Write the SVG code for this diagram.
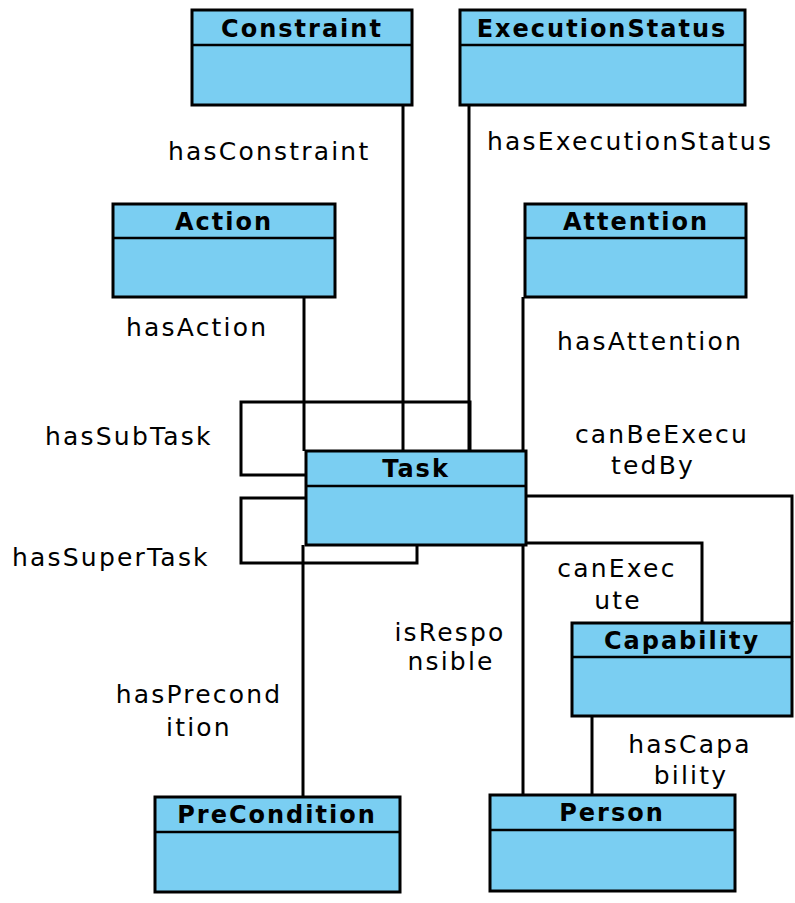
<svg xmlns="http://www.w3.org/2000/svg" width="795" height="903" viewBox="0 0 795 903">
<style>
.box{fill:#7acef2;stroke:#000;stroke-width:3}
.div{stroke:#000;stroke-width:2.5}
.title{font-family:"DejaVu Sans",sans-serif;font-weight:bold;font-size:24px;letter-spacing:2px;text-anchor:middle;fill:#000}
.lbl{font-family:"DejaVu Sans",sans-serif;font-size:25px;letter-spacing:2.2px;fill:#000}
.mid{text-anchor:middle}
.conn path{fill:none;stroke:#000;stroke-width:3}
</style>
<rect width="795" height="903" fill="#fff"/>
<g class="conn" id="connectors">
<path d="M403 105V451"/>
<path d="M469 105V451"/>
<path d="M304 297V451"/>
<path d="M523 297V451"/>
<path d="M470 451V402H241V475H306"/>
<path d="M306 498H241V563H417V545"/>
<path d="M303 545V797"/>
<path d="M523 545V795"/>
<path d="M526 496H792V622"/>
<path d="M526 543H702V622"/>
<path d="M592 716V795"/>
</g>
<g id="Constraint"><rect class="box" x="192" y="10" width="220" height="95"/><line class="div" x1="192" y1="45" x2="412" y2="45"/><text class="title" x="302" y="37">Constraint</text></g>
<g id="ExecutionStatus"><rect class="box" x="460" y="10" width="285" height="95"/><line class="div" x1="460" y1="45" x2="745" y2="45"/><text class="title" x="602" y="37">ExecutionStatus</text></g>
<g id="Action"><rect class="box" x="113" y="204" width="222" height="93"/><line class="div" x1="113" y1="238" x2="335" y2="238"/><text class="title" x="224" y="230">Action</text></g>
<g id="Attention"><rect class="box" x="525" y="204" width="221" height="93"/><line class="div" x1="525" y1="238" x2="746" y2="238"/><text class="title" x="636" y="230">Attention</text></g>
<g id="Task"><rect class="box" x="306" y="451" width="220" height="94"/><line class="div" x1="306" y1="486" x2="526" y2="486"/><text class="title" x="416" y="477">Task</text></g>
<g id="Capability"><rect class="box" x="572" y="623" width="220" height="93"/><line class="div" x1="572" y1="657" x2="792" y2="657"/><text class="title" x="682" y="649">Capability</text></g>
<g id="PreCondition"><rect class="box" x="155" y="797" width="245" height="95"/><line class="div" x1="155" y1="832" x2="400" y2="832"/><text class="title" x="277" y="823">PreCondition</text></g>
<g id="Person"><rect class="box" x="490" y="795" width="245" height="96"/><line class="div" x1="490" y1="830" x2="735" y2="830"/><text class="title" x="612" y="821">Person</text></g>
<g id="labels">
<text class="lbl" x="168" y="160">hasConstraint</text>
<text class="lbl" x="487" y="150">hasExecutionStatus</text>
<text class="lbl" x="126" y="336">hasAction</text>
<text class="lbl" x="557" y="350">hasAttention</text>
<text class="lbl" x="45" y="445">hasSubTask</text>
<text class="lbl mid" x="662" y="443">canBeExecu</text>
<text class="lbl mid" x="653" y="474">tedBy</text>
<text class="lbl" x="12" y="566">hasSuperTask</text>
<text class="lbl mid" x="617" y="577">canExec</text>
<text class="lbl mid" x="618" y="609">ute</text>
<text class="lbl mid" x="450" y="641">isRespo</text>
<text class="lbl mid" x="451" y="670">nsible</text>
<text class="lbl mid" x="199" y="703">hasPrecond</text>
<text class="lbl mid" x="199" y="736">ition</text>
<text class="lbl mid" x="690" y="753">hasCapa</text>
<text class="lbl mid" x="691" y="784">bility</text>
</g>
</svg>
